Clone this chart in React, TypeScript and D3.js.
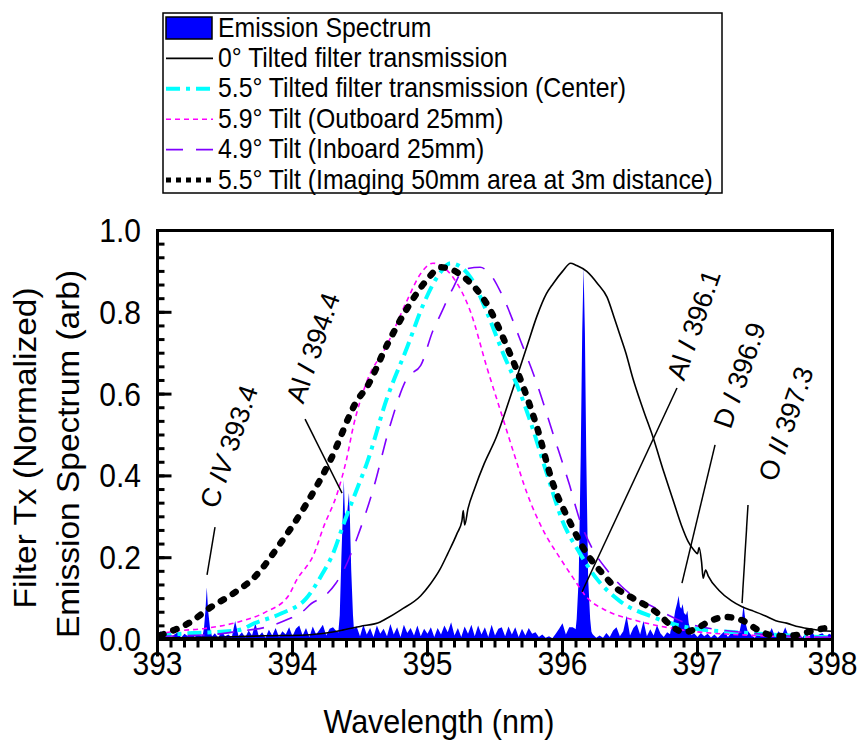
import React from "react";
import * as d3 from "d3";

// ---------- DATA ----------
const xTicks = [393, 394, 395, 396, 397, 398];
const yTicks = [0, 0.2, 0.4, 0.6, 0.8, 1.0];

// Emission spectrum background (noise floor), sampled every 0.025 nm from 393.000
const noiseStart = 393.0;
const noiseStep = 0.025;
const emissionNoise = [
  0.012, 0.020, 0.006, 0.016, 0.004, 0.012, 0.018, 0.005, 0.014, 0.008, 0.020, 0.006, 0.012,
  0.008, 0.016, 0.010, 0.006,
  0.015, 0.004, 0.020, 0.008, 0.012, 0.005,
  0.045,
  0.008, 0.018, 0.005, 0.022, 0.010,
  0.040,
  0.008, 0.018, 0.004, 0.024, 0.010, 0.028, 0.006, 0.020, 0.012, 0.030, 0.008, 0.026, 0.034,
  0.010, 0.028, 0.006, 0.032, 0.012, 0.024, 0.036, 0.010, 0.026, 0.030,
  0.020, 0.015, 0.015, 0.015, 0.015, 0.025,
  0.032, 0.008, 0.036, 0.012, 0.028, 0.006, 0.034, 0.014, 0.026, 0.008, 0.038, 0.012, 0.030,
  0.006, 0.036, 0.016, 0.028, 0.010, 0.034, 0.008, 0.026, 0.014, 0.030, 0.006, 0.028, 0.012,
  0.034, 0.018, 0.042, 0.010, 0.028, 0.006, 0.032, 0.014, 0.036, 0.008, 0.034, 0.012, 0.030,
  0.006, 0.036, 0.010, 0.026, 0.030, 0.008, 0.032, 0.012, 0.030, 0.006, 0.026, 0.010, 0.028,
  0.014, 0.018, 0.006, 0.012, 0.004, 0.008, 0.003, 0.014, 0.026, 0.040, 0.012, 0.030,
  0.030, 0.025, 0.025, 0.025, 0.025, 0.025, 0.012, 0.004,
  0.010, 0.004, 0.016, 0.006, 0.022, 0.030, 0.008, 0.020, 0.058, 0.010, 0.028, 0.037, 0.012,
  0.045, 0.008, 0.025, 0.010, 0.035, 0.015, 0.006, 0.018, 0.012, 0.015, 0.015, 0.015, 0.015,
  0.015, 0.010, 0.015, 0.006, 0.016, 0.008, 0.014, 0.005, 0.012, 0.004, 0.012, 0.020, 0.006,
  0.016, 0.022, 0.015, 0.015, 0.015, 0.020, 0.010, 0.004, 0.018, 0.008, 0.022, 0.010, 0.028,
  0.006, 0.020, 0.010, 0.030, 0.008, 0.018, 0.005, 0.015, 0.004, 0.014, 0.006, 0.018, 0.005,
  0.012, 0.015, 0.006, 0.014, 0.010,
];

// Emission lines [wavelength nm, intensity]
const lineCIV = [
  [393.33, 0], [393.345, 0.03], [393.355, 0.07], [393.365, 0.128], [393.375, 0.07], [393.39, 0.025], [393.41, 0],
];
const lineAlI3944 = [
  [394.335, 0], [394.35, 0.06], [394.362, 0.2], [394.372, 0.3], [394.38, 0.39], [394.388, 0.31],
  [394.398, 0.29], [394.408, 0.32], [394.418, 0.358], [394.425, 0.3], [394.435, 0.17], [394.448, 0.06], [394.46, 0],
];
const lineAlI3961 = [
  [396.09, 0], [396.105, 0.05], [396.12, 0.15], [396.135, 0.45], [396.146, 0.75], [396.156, 0.91],
  [396.166, 0.75], [396.176, 0.45], [396.19, 0.15], [396.205, 0.05], [396.22, 0],
];
const lineDI = [
  [396.79, 0], [396.8, 0.02], [396.82, 0.04], [396.835, 0.07], [396.85, 0.09], [396.86, 0.107], [396.87, 0.08],
  [396.88, 0.075], [396.89, 0.087], [396.9, 0.065], [396.915, 0.06], [396.925, 0.07], [396.935, 0.04], [396.95, 0.02], [396.96, 0],
];
const lineOII = [
  [397.3, 0], [397.315, 0.025], [397.328, 0.045], [397.336, 0.07], [397.342, 0.083], [397.35, 0.06], [397.36, 0.035], [397.38, 0.01], [397.39, 0],
];

// Filter transmission curves [wavelength nm, transmission]
const tilt0 = [
  [393.0, 0.004], [393.5, 0.006], [393.8, 0.009], [394.1, 0.011], [394.25, 0.016], [394.37, 0.023], [394.5, 0.032],
  [394.65, 0.043], [394.69, 0.05], [394.8, 0.072], [394.95, 0.107], [395.02, 0.135], [395.09, 0.17], [395.15, 0.21],
  [395.22, 0.26], [395.255, 0.29], [395.265, 0.315], [395.275, 0.28], [395.3, 0.32], [395.35, 0.37], [395.42, 0.43],
  [395.51, 0.495], [395.6, 0.58], [395.66, 0.64], [395.74, 0.72], [395.81, 0.79], [395.88, 0.845], [395.93, 0.87],
  [396.0, 0.9], [396.06, 0.92], [396.1, 0.915], [396.18, 0.9], [396.26, 0.87], [396.33, 0.837], [396.38, 0.79],
  [396.42, 0.75], [396.47, 0.7], [396.52, 0.64], [396.6, 0.56], [396.67, 0.495], [396.75, 0.41], [396.82, 0.34],
  [396.88, 0.28], [396.93, 0.24], [396.97, 0.22], [397.0, 0.21], [397.012, 0.225], [397.03, 0.19], [397.042, 0.15],
  [397.06, 0.17], [397.08, 0.155], [397.16, 0.12], [397.25, 0.095], [397.33, 0.08], [397.41, 0.07], [397.5, 0.058],
  [397.58, 0.046], [397.66, 0.04], [397.75, 0.031], [397.85, 0.025], [397.92, 0.022], [398.0, 0.02],
];
const tilt55Center = [
  [393.0, 0.01], [393.23, 0.015], [393.6, 0.023], [393.72, 0.04], [393.92, 0.064], [394.1, 0.1], [394.22, 0.16],
  [394.3, 0.21], [394.38, 0.284], [394.48, 0.37], [394.55, 0.43], [394.7, 0.59], [394.85, 0.715], [394.97, 0.82],
  [395.09, 0.895], [395.17, 0.92], [395.32, 0.885], [395.44, 0.8], [395.56, 0.7], [395.69, 0.6], [395.76, 0.535],
  [395.88, 0.41], [396.0, 0.29], [396.13, 0.21], [396.25, 0.15], [396.42, 0.095], [396.67, 0.055], [396.92, 0.03],
  [397.41, 0.015], [398.0, 0.005],
];
const tilt59Outboard = [
  [393.0, 0.012], [393.1, 0.019], [393.35, 0.027], [393.6, 0.043], [393.8, 0.067], [393.97, 0.107], [394.03, 0.145],
  [394.16, 0.21], [394.23, 0.275], [394.33, 0.356], [394.4, 0.44], [394.45, 0.52], [394.55, 0.63], [394.7, 0.72],
  [394.85, 0.83], [394.95, 0.895], [395.04, 0.92], [395.19, 0.885], [395.32, 0.8], [395.44, 0.665], [395.54, 0.56],
  [395.64, 0.455], [395.74, 0.355], [395.86, 0.265], [395.98, 0.2], [396.08, 0.15], [396.18, 0.103], [396.33, 0.07],
  [396.55, 0.046], [396.92, 0.022], [397.41, 0.01], [398.0, 0.005],
];
const tilt49Inboard = [
  [393.0, 0.008], [393.4, 0.012], [393.6, 0.02], [393.8, 0.03], [393.97, 0.05], [394.07, 0.067], [394.14, 0.088],
  [394.24, 0.107], [394.32, 0.137], [394.38, 0.17], [394.48, 0.25], [394.6, 0.37], [394.72, 0.52], [394.85, 0.64],
  [394.95, 0.67], [395.04, 0.755], [395.09, 0.79], [395.19, 0.86], [395.27, 0.905], [395.39, 0.91], [395.46, 0.895],
  [395.56, 0.837], [395.69, 0.73], [395.81, 0.626], [395.93, 0.503], [396.05, 0.38], [396.13, 0.29], [396.23, 0.217],
  [396.33, 0.17], [396.47, 0.12], [396.67, 0.08], [396.92, 0.04], [397.41, 0.015], [398.0, 0.005],
];
const tilt55Imaging = [
  [393.02, 0.01], [393.06, 0.015], [393.23, 0.04], [393.4, 0.08], [393.55, 0.11], [393.72, 0.153], [393.91, 0.235],
  [394.1, 0.33], [394.28, 0.438], [394.48, 0.585], [394.55, 0.617], [394.7, 0.72], [394.85, 0.81], [394.99, 0.877],
  [395.1, 0.91], [395.27, 0.886], [395.44, 0.82], [395.59, 0.715], [395.71, 0.617], [395.81, 0.52], [395.93, 0.38],
  [396.05, 0.29], [396.18, 0.21], [396.3, 0.16], [396.4, 0.125], [396.5, 0.105], [396.64, 0.079], [396.71, 0.063],
  [396.8, 0.035], [396.9, 0.018], [397.0, 0.028], [397.08, 0.043], [397.21, 0.055], [397.33, 0.047], [397.45, 0.023],
  [397.55, 0.01], [397.65, 0.008], [397.75, 0.012], [397.87, 0.023], [398.0, 0.03],
];

// Annotations (data coords): leader line from -> to, label anchor at
const annotations = [
  { el: "C ", ion: "IV", wl: " 393.4", from: [393.426, 0.275], to: [393.367, 0.158], at: [393.44, 0.317] },
  { el: "Al ", ion: "I", wl: " 394.4", from: [394.093, 0.539], to: [394.367, 0.358], at: [394.08, 0.574] },
  { el: "Al ", ion: "I", wl: " 396.1", from: [396.848, 0.615], to: [396.144, 0.116], at: [396.9, 0.63] },
  { el: "D ", ion: "I", wl: " 396.9", from: [397.13, 0.476], to: [396.885, 0.138], at: [397.245, 0.512] },
  { el: "O ", ion: "II", wl: " 397.3", from: [397.374, 0.329], to: [397.33, 0.089], at: [397.577, 0.383] },
];

const legendLabels = [
  "Emission Spectrum",
  "0° Tilted filter transmission",
  "5.5° Tilted filter transmission (Center)",
  "5.9° Tilt (Outboard 25mm)",
  "4.9° Tilt (Inboard 25mm)",
  "5.5° Tilt (Imaging 50mm area at 3m distance)",
];

// ---------- STYLES ----------
const FONT = "'Liberation Sans', Arial, Helvetica, sans-serif";
const BLUE = "#0000ff";
const SY = 1.08; // vertical stretch of glyphs seen in the reference
const styles = [
  { stroke: "#000000", width: 1.6, dash: "none", cap: "butt" },
  { stroke: "#00ffff", width: 4, dash: "14 6 4 6", cap: "butt" },
  { stroke: "#ff00ff", width: 1.6, dash: "5 4", cap: "butt" },
  { stroke: "#8000ff", width: 1.6, dash: "17 13", cap: "butt" },
  { stroke: "#000000", width: 6.5, dash: "3.5 10.5", cap: "round" },
];

function T(props: any) {
  const { x, y, children, ...rest } = props;
  return (
    <text transform={`translate(${x},${y}) scale(1,${SY})`} {...rest}>
      {children}
    </text>
  );
}

export default function App() {
  const W = 864, H = 749;
  const left = 157.5, right = 832.5, top = 230.5, bottom = 639.5;
  const x = d3.scaleLinear().domain([393, 398]).range([left, right]);
  const y = d3.scaleLinear().domain([0, 1]).range([bottom, top]);

  const noisePts = emissionNoise.map((v, i) => [noiseStart + i * noiseStep, v]);
  const area = d3.area<number[]>().x((d) => x(d[0])).y0(y(0)).y1((d) => y(d[1]));
  const line = d3.line<number[]>().x((d) => x(d[0])).y((d) => y(d[1])).curve(d3.curveMonotoneX);
  const lines = [lineCIV, lineAlI3944, lineAlI3961, lineDI, lineOII];
  const curves = [tilt0, tilt55Center, tilt59Outboard, tilt49Inboard, tilt55Imaging];

  const xMinor = d3.range(393, 398.0001, 0.1);
  const yMinor = d3.range(0, 1.0001, 0.2 / 6);

  const legX = 163, legY = 13, legW = 559, legH = 180, rowH = 30.4;

  return (
    <svg width={W} height={H} style={{ position: "absolute", left: 0, top: 0, background: "#fff" }} fontFamily={FONT}>
      <rect x={0} y={0} width={W} height={H} fill="#fff" />
      <defs>
        <clipPath id="plotclip">
          <rect x={left} y={top} width={right - left} height={bottom - top} />
        </clipPath>
      </defs>

      <g clipPath="url(#plotclip)">
        <path d={area(noisePts) || ""} fill={BLUE} />
        {lines.map((l, i) => (
          <path key={i} d={area(l) || ""} fill={BLUE} />
        ))}
        {curves.map((c, i) => (
          <path
            key={i}
            d={line(c) || ""}
            fill="none"
            stroke={styles[i].stroke}
            strokeWidth={styles[i].width}
            strokeDasharray={styles[i].dash}
            strokeLinecap={styles[i].cap as any}
            strokeLinejoin="round"
          />
        ))}
      </g>

      {/* annotations */}
      {annotations.map((a, i) => (
        <g key={i}>
          <line x1={x(a.from[0])} y1={y(a.from[1])} x2={x(a.to[0])} y2={y(a.to[1])} stroke="#000" strokeWidth={1.5} />
          <text transform={`translate(${x(a.at[0])},${y(a.at[1])}) rotate(-71)`} fontSize={27} fill="#000">
            {a.el}
            <tspan fontStyle="italic">{a.ion}</tspan>
            {a.wl}
          </text>
        </g>
      ))}

      {/* frame */}
      <rect x={left} y={top} width={right - left} height={bottom - top} fill="none" stroke="#000" strokeWidth={3} />

      {/* x ticks */}
      {xMinor.map((t, i) => (
        <line key={"xm" + i} x1={x(t)} x2={x(t)} y1={bottom} y2={bottom + 8} stroke="#000" strokeWidth={3} />
      ))}
      {xTicks.map((t) => (
        <g key={"x" + t}>
          <line x1={x(t)} x2={x(t)} y1={bottom} y2={bottom + 17} stroke="#000" strokeWidth={3} />
          <T x={x(t)} y={675} textAnchor="middle" fontSize={30}>{t}</T>
        </g>
      ))}
      {/* y ticks */}
      {yMinor.map((t, i) => (
        <line key={"ym" + i} x1={left} x2={left + 7} y1={y(t)} y2={y(t)} stroke="#000" strokeWidth={3} />
      ))}
      {yTicks.map((t) => (
        <g key={"y" + t}>
          <line x1={left} x2={left + 14} y1={y(t)} y2={y(t)} stroke="#000" strokeWidth={3} />
          <T x={141} y={y(t) + 11.5} textAnchor="end" fontSize={30}>{t.toFixed(1)}</T>
        </g>
      ))}

      {/* axis titles */}
      <T x={439} y={733} textAnchor="middle" fontSize={30.5}>Wavelength (nm)</T>
      <text transform={`translate(36,448) rotate(-90) scale(${SY},1)`} textAnchor="middle" fontSize={31}>Filter Tx (Normalized)</text>
      <text transform={`translate(79,454) rotate(-90) scale(${SY},1)`} textAnchor="middle" fontSize={31}>Emission Spectrum (arb)</text>

      {/* legend */}
      <rect x={legX} y={legY} width={legW} height={legH} fill="#fff" stroke="#000" strokeWidth={1.5} />
      {legendLabels.map((lab, i) => {
        const cy = legY + 15 + i * rowH;
        return (
          <g key={"leg" + i}>
            {i === 0 ? (
              <rect x={legX + 3} y={cy - 11} width={46} height={22} fill={BLUE} stroke="#000" strokeWidth={1.5} />
            ) : (
              <line
                x1={legX + 3}
                x2={legX + 50}
                y1={cy}
                y2={cy}
                stroke={styles[i - 1].stroke}
                strokeWidth={i === 5 ? 5 : styles[i - 1].width}
                strokeDasharray={i === 5 ? "5 5" : styles[i - 1].dash}
                strokeLinecap="butt"
              />
            )}
            <T x={legX + 55} y={cy + 8.5} fontSize={24.8}>{lab}</T>
          </g>
        );
      })}
    </svg>
  );
}
